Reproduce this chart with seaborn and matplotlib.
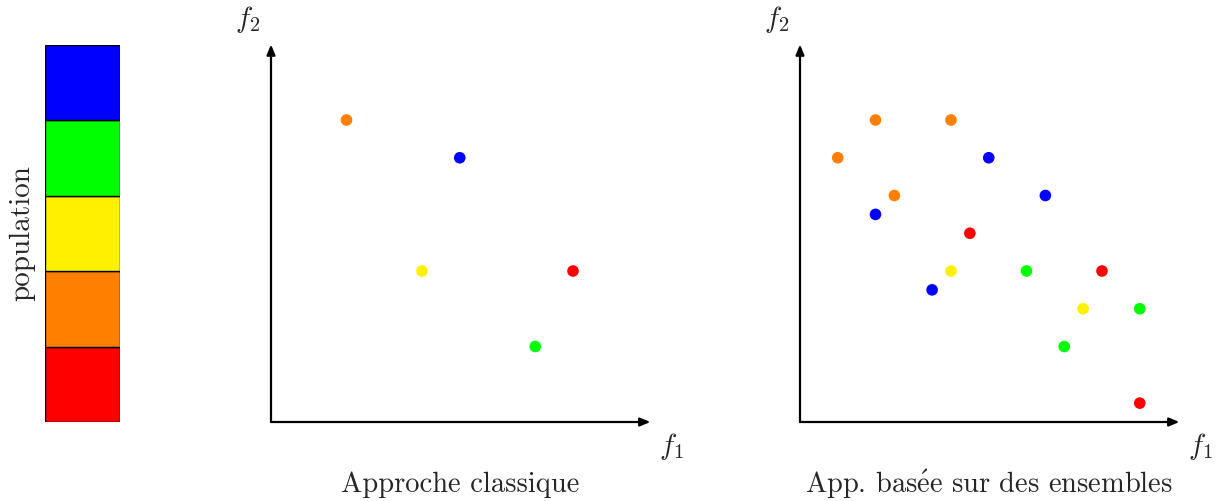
import numpy as np
import pandas as pd
import matplotlib
matplotlib.use("Agg")
import matplotlib.pyplot as plt
import seaborn as sns

sns.set_style("white")
plt.rcParams["font.family"] = ["cmr10", "DejaVu Serif"]
plt.rcParams["mathtext.fontset"] = "cm"
plt.rcParams["axes.unicode_minus"] = False

# population bar (bottom to top)
pop_levels = ["red", "orange", "yellow", "green", "blue"]
palette = {"red": "#ff0000", "orange": "#ff8000", "yellow": "#fff000",
           "green": "#00ff00", "blue": "#0000ff"}

# classical approach: one point per individual
classic_f1 = [2, 5, 4, 8, 7]
classic_f2 = [8, 7, 4, 4, 2]
classic_col = ["orange", "blue", "yellow", "red", "green"]

# set-based approach: several points per individual
sets_f1 = [1, 2, 4, 2.5, 5, 6.5, 2, 3.5, 4.5, 8, 9, 4, 7.5, 6, 9, 7]
sets_f2 = [7, 8, 8, 6, 7, 6, 5.5, 3.5, 5, 4, 0.5, 4, 3, 4, 3, 2]
sets_col = ["orange", "orange", "orange", "orange",
            "blue", "blue", "blue", "blue",
            "red", "red", "red",
            "yellow", "yellow",
            "green", "green", "green"]

W, H = 1221, 501
fig = plt.figure(figsize=(W / 100, H / 100), dpi=100)

# population column
axp = fig.add_axes([45 / W, (H - 422) / H, 75 / W, 377 / H])
axp.bar([0] * len(pop_levels), [1] * len(pop_levels), bottom=np.arange(len(pop_levels)),
        width=1, color=[palette[c] for c in pop_levels], edgecolor="black", linewidth=1)
axp.set_xlim(-0.5, 0.5)
axp.set_ylim(0, len(pop_levels))
axp.set_axis_off()
fig.text(22 / W, (H - 233) / H, "population", rotation=90, ha="center", va="center", fontsize=21)

unit = 37.75


def objective_panel(x0, f1, f2, cols, title):
    ax = fig.add_axes([x0 / W, (H - 422) / H, 10 * unit / W, 10 * unit / H])
    df = pd.DataFrame({"f1": f1, "f2": f2, "ind": cols})
    sns.scatterplot(data=df, x="f1", y="f2", hue="ind", palette=palette, s=70,
                    edgecolor="none", legend=False, ax=ax, clip_on=False)
    ax.set_xlim(0, 10)
    ax.set_ylim(0, 10)
    ax.set_axis_off()
    arrow = dict(arrowstyle="-|>,head_length=0.6,head_width=0.25", lw=1.6, color="black",
                 shrinkA=0, shrinkB=0)
    ax.annotate("", xy=(10.05, 0), xytext=(0, 0), arrowprops=arrow, annotation_clip=False)
    ax.annotate("", xy=(0, 10.0), xytext=(0, 0), arrowprops=arrow, annotation_clip=False)
    ax.text(10.6, -0.65, r"$f_1$", fontsize=21, ha="center", va="center")
    ax.text(-0.62, 10.65, r"$f_2$", fontsize=21, ha="center", va="center")
    ax.text(5.0, -1.65, title, fontsize=20.5, ha="center", va="center")
    return ax


objective_panel(271, classic_f1, classic_f2, classic_col, "Approche classique")
objective_panel(800, sets_f1, sets_f2, sets_col, r"App. bas$\acute{\mathrm{e}}$e sur des ensembles")

fig.savefig("out.png", dpi=100)
